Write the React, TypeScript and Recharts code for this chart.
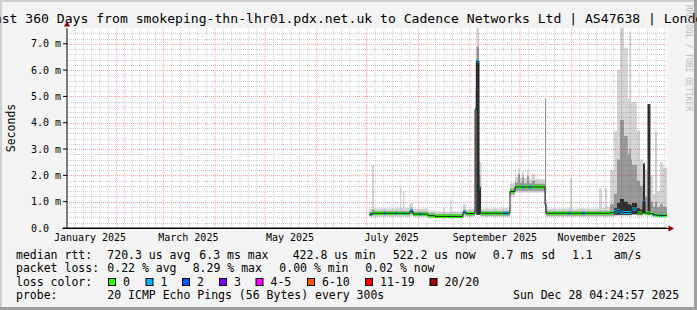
import React from "react";
import { Area, CartesianGrid, ComposedChart, Line, XAxis, YAxis } from "recharts";

// smokeping 360 day view, values in ms, x in days since Jan 2 2025 04:25
const segStart = [
  181.5, 183.0, 184.2, 190.3, 191.5, 196.8, 198.0, 199.8, 200.4, 201.6,
  202.5, 205.8, 207.6, 211.3, 212.5, 216.6, 220.8, 225.6, 226.5, 229.8,
  230.7, 237.6, 239.4, 244.8, 245.6, 247.2, 248.0, 248.7, 261.6, 264.6,
  265.8, 268.8, 269.4, 270.6, 271.8, 273.0, 274.2, 276.0, 277.1, 278.9,
  280.8, 286.8, 287.4, 288.3, 300.6, 301.8, 303.0, 309.0, 310.8, 319.2,
  321.0, 322.8, 324.0, 325.8, 328.2, 330.0, 331.8, 334.2, 336.5, 337.4,
  338.4, 339.0, 342.0, 343.8, 345.6, 346.8, 348.4, 350.0, 351.6, 352.8,
  354.0, 355.8, 357.6, 360,
];
const medianMs = [
  0.52, 0.56, 0.56, 0.56, 0.56, 0.56, 0.56, 0.56, 0.56, 0.56,
  0.56, 0.64, 0.53, 0.53, 0.53, 0.47, 0.44, 0.44, 0.44, 0.44,
  0.44, 0.6, 0.55, 4.5, 6.33, 1.55, 0.56, 0.56, 0.56, 0.56,
  1.39, 1.56, 1.56, 1.56, 1.56, 1.56, 1.56, 1.56, 1.56, 1.56,
  1.56, 0.89, 0.56, 0.56, 0.56, 0.56, 0.56, 0.56, 0.56, 0.56,
  0.56, 0.56, 0.56, 0.58, 0.62, 0.66, 0.6, 0.59, 0.59, 0.59,
  0.62, 0.72, 0.57, 0.57, 1.0, 0.57, 0.57, 0.55, 0.5, 0.5,
  0.48, 0.48, 0.48,
];
const lossCount = [
  1, 0, 0, 1, 0, 1, 0, 0, 0, 1,
  0, 1, 0, 1, 0, 0, 0, 0, 0, 0,
  0, 1, 0, 1, 1, 1, 0, 0, 1, 0,
  0, 1, 0, 0, 0, 1, 0, 0, 1, 0,
  0, 1, 0, 0, 1, 0, 0, 1, 0, 0,
  0, 0, 0, 0, 1, 1, 1, 1, 1, 1,
  1, 1, 0, 0, 2, 0, 0, 0, 1, 0,
  0, 1, 0,
];
const smokeMin = [
  0.4, 0.42, 0.42, 0.42, 0.42, 0.43, 0.42, 0.42, 0.42, 0.42,
  0.42, 0.46, 0.41, 0.41, 0.41, 0.37, 0.35, 0.35, 0.35, 0.35,
  0.35, 0.44, 0.42, 0.6, 0.5, 0.5, 0.42, 0.42, 0.42, 0.42,
  1.2, 1.35, 1.35, 1.35, 1.35, 1.35, 1.35, 1.35, 1.35, 1.35,
  1.35, 0.5, 0.42, 0.42, 0.42, 0.42, 0.42, 0.42, 0.42, 0.42,
  0.42, 0.42, 0.42, 0.42, 0.45, 0.45, 0.45, 0.45, 0.45, 0.45,
  0.45, 0.48, 0.45, 0.45, 0.5, 0.45, 0.45, 0.43, 0.42, 0.42,
  0.4, 0.4, 0.4,
];
const smokeMax = [
  0.72, 2.4, 0.74, 0.76, 0.74, 0.78, 0.75, 1.58, 0.78, 1.39,
  0.76, 0.95, 0.72, 0.72, 0.74, 0.66, 0.62, 0.75, 0.62, 1.08,
  0.64, 0.9, 0.72, 5.2, 7.6, 2.5, 2.5, 0.74, 0.76, 0.74,
  1.7, 2.2, 1.95, 2.25, 1.9, 2.15, 1.9, 2.2, 1.85, 2.05,
  1.85, 4.95, 1.0, 0.74, 0.76, 1.9, 0.74, 0.76, 0.74, 1.5,
  0.76, 1.5, 0.8, 2.2, 3.7, 6.0, 7.6, 6.85, 4.9, 7.4,
  4.75, 4.8, 3.7, 2.6, 2.5, 2.2, 4.71, 2.0, 1.3, 3.67,
  1.4, 2.5, 2.3,
];
const smokeInnerLo = [
  0.46, 0.47, 0.48, 0.48, 0.48, 0.48, 0.48, 0.48, 0.48, 0.48,
  0.48, 0.52, 0.46, 0.46, 0.46, 0.41, 0.39, 0.39, 0.39, 0.39,
  0.39, 0.5, 0.47, 0.6, 0.5, 0.5, 0.47, 0.47, 0.47, 0.47,
  1.28, 1.42, 1.42, 1.42, 1.42, 1.42, 1.42, 1.42, 1.42, 1.42,
  1.42, 0.6, 0.47, 0.47, 0.47, 0.47, 0.47, 0.47, 0.47, 0.47,
  0.47, 0.47, 0.47, 0.47, 0.5, 0.5, 0.5, 0.5, 0.5, 0.5,
  0.5, 0.52, 0.5, 0.5, 0.55, 0.5, 0.5, 0.48, 0.46, 0.46,
  0.45, 0.45, 0.45,
];
const smokeInnerHi = [
  0.62, 0.7, 0.64, 0.65, 0.64, 0.66, 0.64, 0.66, 0.64, 0.66,
  0.64, 0.74, 0.62, 0.62, 0.62, 0.56, 0.53, 0.55, 0.53, 0.56,
  0.53, 0.7, 0.63, 4.5, 6.9, 2.0, 0.66, 0.64, 0.65, 0.64,
  1.5, 1.8, 1.72, 2.05, 1.72, 1.95, 1.7, 1.98, 1.7, 1.8,
  1.68, 4.9, 0.7, 0.64, 0.65, 0.66, 0.64, 0.65, 0.64, 0.66,
  0.64, 0.66, 0.65, 0.9, 1.3, 2.6, 4.1, 3.5, 2.8, 3.0,
  2.6, 2.4, 1.8, 1.6, 2.4, 1.2, 4.6, 1.0, 0.8, 1.0,
  0.8, 0.9, 0.8,
];
// null where no dark core smoke
const smokeDarkHi: (number | null)[] = [
  null, null, null, null, null, null, null, null, null, null,
  null, null, null, null, null, null, null, null, null, null,
  null, null, null, null, 6.33, 1.55, null, null, null, null,
  null, null, null, null, null, null, null, null, null, null,
  null, null, null, null, null, null, null, null, null, null,
  null, null, null, null, 0.75, 0.95, 1.1, 1.0, 0.9, 0.9,
  0.85, 0.95, 0.75, 0.7, 2.45, null, 4.71, null, null, null,
  null, null, null,
];

const yTicks = [0, 1, 2, 3, 4, 5, 6, 7];
const yTickLabels = ["0.0", "1.0 m", "2.0 m", "3.0 m", "4.0 m", "5.0 m", "6.0 m", "7.0 m"];
const monthStarts = [29.8, 57.8, 88.8, 118.8, 149.8, 179.8, 210.8, 241.8, 271.8, 302.8, 332.8];
const labelDays = [13.8, 72.8, 133.8, 194.8, 256.8, 317.8];
const labelText = ["January 2025", "March 2025", "May 2025", "July 2025", "September 2025", "November 2025"];

const lossColors = ["#26ff00", "#00b8ff", "#0059ff"];
const legendBoxes = [
  { label: "0", color: "#26ff00" },
  { label: "1", color: "#00b8ff" },
  { label: "2", color: "#0059ff" },
  { label: "3", color: "#7e00ff" },
  { label: "4-5", color: "#ff00ff" },
  { label: "6-10", color: "#ff5500" },
  { label: "11-19", color: "#ff0000" },
  { label: "20/20", color: "#a10000" },
];
const legendBoxX = [108, 145.5, 182, 219, 255.5, 307, 365, 429.5];

const PLOT_LEFT = 67;
const PLOT_TOP = 28;
const PLOT_W = 600;
const PLOT_H = 200;
const Y_MAX = 7.6;
const BAND = 0.06;
const MONO = "'DejaVu Sans Mono', monospace";

type Range = [number, number] | null;
type Point = {
  day: number;
  med: number;
  outer: Range;
  inner: Range;
  dark: Range;
  loss0: Range;
  loss1: Range;
  loss2: Range;
};

function buildPoints(): Point[] {
  const pts: Point[] = [];
  for (let i = 0; i < medianMs.length; i++) {
    const m = medianMs[i];
    const band: [number, number] = [m - BAND, m + BAND];
    const dk = smokeDarkHi[i];
    const base = {
      med: m,
      outer: [smokeMin[i], smokeMax[i]] as Range,
      inner: [smokeInnerLo[i], smokeInnerHi[i]] as Range,
      dark: dk == null ? null : ([smokeInnerLo[i], dk] as Range),
      loss0: lossCount[i] === 0 ? band : null,
      loss1: lossCount[i] === 1 ? band : null,
      loss2: lossCount[i] === 2 ? band : null,
    };
    // two points per step so gaps and jumps stay square
    pts.push({ day: segStart[i], ...base }, { day: segStart[i + 1], ...base });
  }
  return pts;
}

function minorDays(): number[] {
  const bounds = [-0.2, ...monthStarts, 363.8];
  const out: number[] = [];
  for (let i = 0; i < bounds.length - 1; i++) {
    const step = (bounds[i + 1] - bounds[i]) / 6;
    for (let k = 1; k < 6; k++) {
      const v = bounds[i] + k * step;
      if (v > 0.5 && v < 360) out.push(v);
    }
  }
  return out;
}

function minorMs(): number[] {
  const out: number[] = [];
  for (let i = 1; i < 38; i++) {
    if (i % 5 !== 0) out.push(i / 5);
  }
  return out;
}

// pixel row for a horizontal grid line, snapped so the dots stay crisp
const toRow = (v: number) => Math.round(PLOT_TOP + PLOT_H * (1 - v / Y_MAX)) + 0.5;

function YTick(props: any) {
  const idx = yTicks.indexOf(props.payload.value);
  return (
    <text x={31} y={props.y} dy={3.6} fontFamily={MONO} fontSize={10} fill="#000">
      {yTickLabels[idx]}
    </text>
  );
}

function XTick(props: any) {
  const idx = labelDays.indexOf(props.payload.value);
  return (
    <text x={props.x} y={241} textAnchor="middle" fontFamily={MONO} fontSize={10} fill="#000">
      {labelText[idx]}
    </text>
  );
}

const legendLines: { x: number; y: number; t: string }[] = [
  { x: 16, y: 258.5, t: "median rtt:" },
  { x: 107.3, y: 258.5, t: "720.3 us avg" },
  { x: 199.3, y: 258.5, t: "6.3 ms max" },
  { x: 292.7, y: 258.5, t: "422.8 us min" },
  { x: 392.7, y: 258.5, t: "522.2 us now" },
  { x: 492.7, y: 258.5, t: "0.7 ms sd" },
  { x: 572, y: 258.5, t: "1.1" },
  { x: 613.7, y: 258.5, t: "am/s" },
  { x: 16, y: 272, t: "packet loss:" },
  { x: 107.3, y: 272, t: "0.22 % avg" },
  { x: 192.7, y: 272, t: "8.29 % max" },
  { x: 279.3, y: 272, t: "0.00 % min" },
  { x: 365.3, y: 272, t: "0.02 % now" },
  { x: 16, y: 285.7, t: "loss color:" },
  { x: 16, y: 299.3, t: "probe:" },
  { x: 107.3, y: 299.3, t: "20 ICMP Echo Pings (56 Bytes) every 300s" },
  { x: 513, y: 299.3, t: "Sun Dec 28 04:24:57 2025" },
];

export default function App() {
  const data = buildPoints();
  const vMinor = minorDays();
  const hMinor = minorMs();
  const hMajor = yTicks.slice(1);

  return (
    <div
      style={{
        position: "absolute",
        left: 0,
        top: 0,
        width: 697,
        height: 310,
        background: "#f3f3f3",
        overflow: "hidden",
      }}
    >
      <svg width={697} height={310} style={{ position: "absolute", left: 0, top: 0 }}>
        <rect x={PLOT_LEFT} y={PLOT_TOP} width={PLOT_W} height={PLOT_H} fill="#fff" />
        {hMinor.map((v) => (
          <line
            key={`hm${v}`}
            x1={PLOT_LEFT}
            x2={PLOT_LEFT + PLOT_W}
            y1={toRow(v)}
            y2={toRow(v)}
            stroke="#cdcdcd"
            strokeDasharray="1 1"
          />
        ))}
        {hMajor.map((v) => (
          <line
            key={`hM${v}`}
            x1={PLOT_LEFT}
            x2={PLOT_LEFT + PLOT_W}
            y1={toRow(v)}
            y2={toRow(v)}
            stroke="#ff9c9c"
            strokeDasharray="1 1"
          />
        ))}
      </svg>
      <div style={{ position: "absolute", left: 0, top: 0 }}>
        <ComposedChart
          width={697}
          height={310}
          data={data}
          margin={{ top: PLOT_TOP, right: 30, bottom: 62, left: 7 }}
        >
          <CartesianGrid
            stroke="#cdcdcd"
            strokeDasharray="1 1"
            horizontal={false}
            verticalValues={vMinor}
          />
          <CartesianGrid
            stroke="#ff9c9c"
            strokeDasharray="1 1"
            horizontal={false}
            verticalValues={monthStarts}
          />
          <XAxis
            type="number"
            dataKey="day"
            domain={[0, 360]}
            ticks={labelDays}
            interval={0}
            tick={<XTick />}
            tickLine={false}
            axisLine={{ stroke: "#000" }}
            height={20}
            allowDataOverflow
          />
          <YAxis
            type="number"
            domain={[0, Y_MAX]}
            ticks={yTicks}
            interval={0}
            tick={<YTick />}
            tickLine={{ stroke: "#000" }}
            tickSize={4}
            axisLine={{ stroke: "#000" }}
            width={60}
            allowDataOverflow
          />
          <Area
            type="linear"
            dataKey="outer"
            stroke="none"
            fill="#8a8a8a"
            fillOpacity={0.36}
            isAnimationActive={false}
            dot={false}
            activeDot={false}
          />
          <Area
            type="linear"
            dataKey="inner"
            stroke="none"
            fill="#505050"
            fillOpacity={0.45}
            isAnimationActive={false}
            dot={false}
            activeDot={false}
          />
          <Area
            type="linear"
            dataKey="dark"
            stroke="none"
            fill="#303030"
            fillOpacity={1}
            isAnimationActive={false}
            dot={false}
            activeDot={false}
          />
          <Line
            type="linear"
            dataKey="med"
            stroke="#202020"
            strokeWidth={1}
            dot={false}
            activeDot={false}
            isAnimationActive={false}
          />
          {(["loss0", "loss1", "loss2"] as const).map((k, i) => (
            <Area
              key={k}
              type="linear"
              dataKey={k}
              stroke="none"
              fill={lossColors[i]}
              fillOpacity={1}
              isAnimationActive={false}
              dot={false}
              activeDot={false}
            />
          ))}
        </ComposedChart>
      </div>
      <svg
        width={697}
        height={310}
        style={{ position: "absolute", left: 0, top: 0, pointerEvents: "none" }}
      >
        <rect x={0} y={0} width={697} height={2} fill="#cfcfcf" />
        <rect x={0} y={0} width={2} height={310} fill="#cfcfcf" />
        <rect x={0} y={307} width={697} height={3} fill="#9e9e9e" />
        <rect x={694} y={0} width={3} height={310} fill="#9e9e9e" />
        <text
          x={348.5}
          y={23}
          textAnchor="middle"
          fontFamily={MONO}
          fontSize={13.1}
          fill="#000"
        >
          Last 360 Days from smokeping-thn-lhr01.pdx.net.uk to Cadence Networks Ltd | AS47638 | London
        </text>
        <text
          x={0}
          y={0}
          transform="translate(15,128) rotate(-90)"
          textAnchor="middle"
          fontFamily={MONO}
          fontSize={11.5}
          fill="#000"
        >
          Seconds
        </text>
        <text
          x={0}
          y={0}
          transform="translate(685.5,5) rotate(90)"
          fontFamily={MONO}
          fontSize={8}
          fill="#bdbdbd"
        >
          RRDTOOL / TOBI OETIKER
        </text>
        <line x1={62.5} y1={228.5} x2={669} y2={228.5} stroke="#000" strokeWidth={1} />
        <polygon points="668.5,225.5 668.5,231.5 674,228.5" fill="#8b0000" />
        <polygon points="64,26.5 70,26.5 67,21" fill="#8b0000" />
        {legendLines.map((l, i) => (
          <text key={i} x={l.x} y={l.y} fontFamily={MONO} fontSize={11.5} fill="#000">
            {l.t}
          </text>
        ))}
        {legendBoxes.map((b, i) => (
          <g key={b.label}>
            <rect
              x={legendBoxX[i] + 0.5}
              y={278.5}
              width={7}
              height={7}
              fill={b.color}
              stroke="#000"
              strokeWidth={1}
            />
            <text x={legendBoxX[i] + 15} y={285.7} fontFamily={MONO} fontSize={11.5} fill="#000">
              {b.label}
            </text>
          </g>
        ))}
      </svg>
    </div>
  );
}
